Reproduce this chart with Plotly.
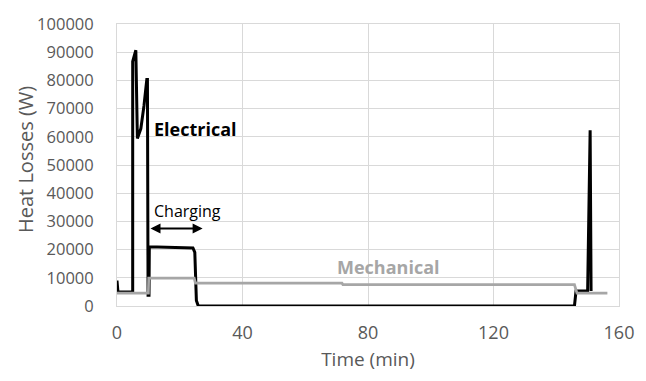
import plotly.graph_objects as go

# Electrical heat losses (black)
elec_time = [0, 0.3, 5.0, 5.0, 6.0, 6.5, 7.6, 8.6, 9.5, 9.7, 9.9, 10.2, 10.3,
             24.2, 24.8, 25.3, 25.9, 145.8, 146.3, 150.0, 150.8, 151.1]
elec_w = [9000, 5000, 5000, 86700, 90700, 59400, 62900, 71000, 80300, 80300,
          3800, 3800, 21000, 20600, 19000, 2000, 0, 0, 5300, 5300, 62300, 5300]

# Mechanical heat losses (gray)
mech_time = [0, 10.0, 10.1, 24.6, 25.0, 71.7, 72.0, 145.8, 146.6, 156.3]
mech_w = [4600, 4600, 9900, 9900, 8100, 8100, 7600, 7600, 4600, 4600]

x_ticks = [0, 40, 80, 120, 160]
y_ticks = list(range(0, 100001, 10000))
y_tick_labels = [str(v) for v in y_ticks]

FONT = "Open Sans"
TXT = "#595959"
GRID = "#d9d9d9"

fig = go.Figure()
fig.add_trace(go.Scatter(x=elec_time, y=elec_w, mode="lines", name="Electrical",
                         line=dict(color="black", width=3), showlegend=False))
fig.add_trace(go.Scatter(x=mech_time, y=mech_w, mode="lines", name="Mechanical",
                         line=dict(color="#a6a6a6", width=2.75), showlegend=False))

fig.add_annotation(x=11.0, y=62900, text="<b>Electrical</b>", showarrow=False,
                   xanchor="left", yanchor="middle",
                   font=dict(family=FONT, size=18, color="black"))
fig.add_annotation(x=11.1, y=33600, text="Charging", showarrow=False,
                   xanchor="left", yanchor="middle",
                   font=dict(family=FONT, size=16, color="black"))
fig.add_annotation(x=27.3, y=27500, ax=10.2, ay=27500, xref="x", yref="y",
                   axref="x", ayref="y", text="", showarrow=True,
                   arrowhead=2, arrowside="end+start", arrowsize=1,
                   arrowwidth=2, arrowcolor="black")
fig.add_annotation(x=86.6, y=13700, text="<b>Mechanical</b>", showarrow=False,
                   xanchor="center", yanchor="middle",
                   font=dict(family=FONT, size=18, color="#a6a6a6"))
# y-axis title
fig.add_annotation(x=-0.182, y=0.52, xref="paper", yref="paper",
                   text="Heat Losses (W)", textangle=-90, showarrow=False,
                   xanchor="center", yanchor="middle",
                   font=dict(family=FONT, size=20, color=TXT))

fig.update_layout(
    width=646, height=381,
    margin=dict(l=117, r=17, t=18, b=75),
    paper_bgcolor="white", plot_bgcolor="white",
    font=dict(family=FONT, color=TXT),
)
fig.update_xaxes(range=[0, 160], tickvals=x_ticks, showgrid=True, gridcolor=GRID,
                 gridwidth=1, zeroline=False, showline=True, mirror=True,
                 linecolor=GRID, linewidth=1, ticks="", ticklabelstandoff=10,
                 tickfont=dict(family=FONT, size=18, color=TXT),
                 title=dict(text="Time (min)", font=dict(family=FONT, size=19, color=TXT),
                            standoff=10))
fig.update_yaxes(range=[0, 100000], tickvals=y_ticks, ticktext=y_tick_labels,
                 showgrid=True, gridcolor=GRID,
                 gridwidth=1, zeroline=False, showline=True, mirror=True,
                 linecolor=GRID, linewidth=1, ticks="", ticklabelstandoff=19,
                 tickfont=dict(family=FONT, size=16.5, color=TXT))

fig.write_html("out.html")
